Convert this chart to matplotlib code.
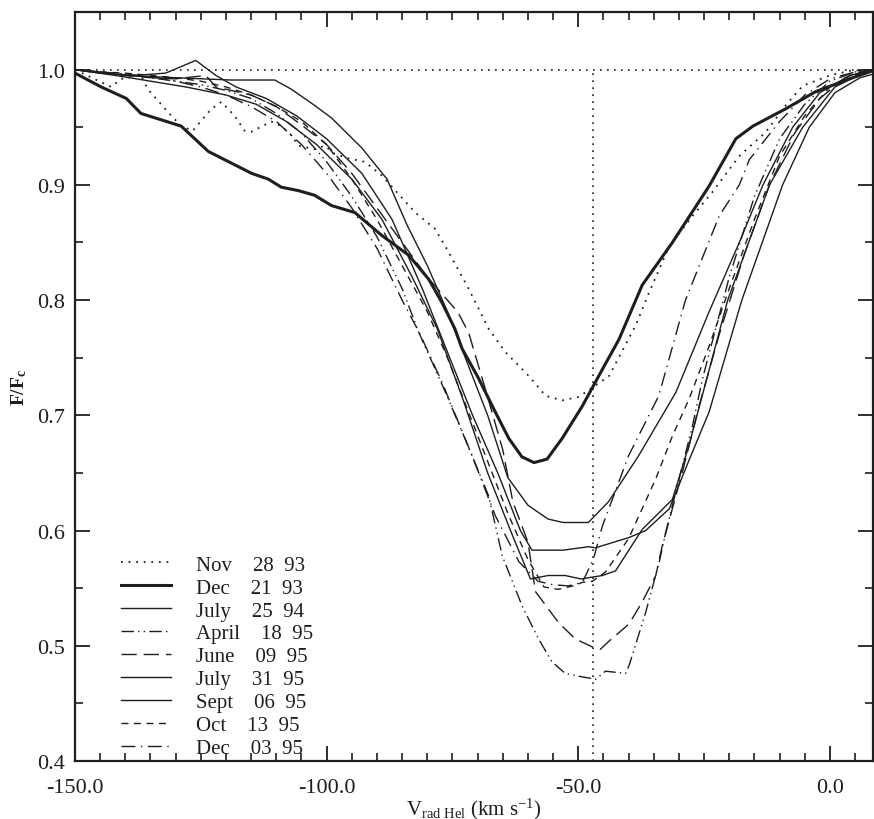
import matplotlib
matplotlib.use("Agg")
import matplotlib.pyplot as plt
from matplotlib.ticker import MultipleLocator, FormatStrFormatter

# ---------------------------------------------------------------------------
# data (velocity in km/s, normalised flux)
# ---------------------------------------------------------------------------
nov93_v = [-150, -144.8, -142.8, -140.8, -136.9, -135.5, -131.5, -128.9, -126.6, -122.9,
           -120.9, -118.3, -116.3, -115.0, -111.0, -109.0, -107.0, -105.6, -102.4, -100.4,
           -98.4, -95.7, -92.4, -89.0, -82.4, -78.5, -75.8, -71.8, -67.8, -64.5, -59.8,
           -56.5, -53.2, -49.9, -43.9, -38.6, -35.9, -31.9, -27.3, -23.3, -18.0, -12.7,
           -8.8, -5.4, 0.0, 4.0, 8.5]
nov93_f = [1.000, 0.989, 0.985, 0.992, 0.995, 0.983, 0.963, 0.951, 0.947, 0.966,
           0.972, 0.960, 0.947, 0.946, 0.955, 0.951, 0.943, 0.934, 0.931, 0.934,
           0.927, 0.923, 0.920, 0.908, 0.876, 0.862, 0.842, 0.810, 0.775, 0.755, 0.734,
           0.717, 0.713, 0.716, 0.734, 0.778, 0.807, 0.847, 0.873, 0.894, 0.925, 0.946,
           0.969, 0.986, 0.995, 0.999, 1.000]

dec93_v = [-150, -144.8, -139.8, -136.9, -128.9, -123.5, -114.9, -111.6, -109.0, -105.6,
           -102.4, -99.0, -94.4, -89.0, -83.7, -79.7, -77.1, -74.5, -73.1, -69.8, -66.5,
           -63.8, -61.2, -58.8, -56.2, -53.2, -49.2, -45.2, -41.9, -37.3, -31.3, -24.0,
           -18.7, -15.3, -8.8, -2.8, 3.9, 8.5]
dec93_f = [0.997, 0.985, 0.975, 0.962, 0.951, 0.929, 0.910, 0.905, 0.898, 0.895,
           0.891, 0.882, 0.876, 0.856, 0.839, 0.818, 0.798, 0.775, 0.758, 0.732, 0.703,
           0.680, 0.664, 0.659, 0.662, 0.680, 0.708, 0.740, 0.766, 0.813, 0.850, 0.899,
           0.940, 0.951, 0.966, 0.981, 0.992, 0.999]

jul94_v = [-150, -145, -140, -130, -119, -113.6, -110.3, -107, -102.4, -99, -93, -88,
           -84, -80, -76, -72, -68, -64, -60, -56, -53, -48, -44, -38, -30.6, -24, -18,
           -13.3, -7.4, -2, 4, 8.5]
jul94_f = [1.000, 0.998, 0.995, 0.993, 0.991, 0.991, 0.991, 0.983, 0.969, 0.958, 0.932,
           0.905, 0.865, 0.830, 0.790, 0.745, 0.700, 0.646, 0.622, 0.610, 0.607, 0.607,
           0.625, 0.665, 0.720, 0.790, 0.850, 0.900, 0.950, 0.980, 0.995, 1.000]

apr95_v = [-150, -145, -140, -135, -130, -125, -120, -115, -110, -105, -100, -95, -90,
           -85, -81.7, -78.4, -75.8, -71.1, -67.8, -65.1, -61.2, -57.9, -55.2, -52.6,
           -49.2, -46.5, -44.6, -40.6, -39.9, -36.6, -33.9, -32.6, -27.3, -25.3, -20,
           -15, -10, -5, 0, 5, 8.5]
apr95_f = [1.000, 0.998, 0.996, 0.993, 0.990, 0.987, 0.982, 0.975, 0.962, 0.945, 0.920,
           0.890, 0.855, 0.810, 0.772, 0.740, 0.714, 0.665, 0.630, 0.578, 0.535, 0.506,
           0.486, 0.476, 0.473, 0.471, 0.478, 0.476, 0.483, 0.529, 0.573, 0.599, 0.691,
           0.732, 0.820, 0.890, 0.940, 0.970, 0.990, 0.998, 1.000]

jun95_v = [-150, -145, -140, -135, -130, -124, -122, -115, -110, -105, -100, -95, -90,
           -85, -80, -74, -71.8, -68, -65, -63, -60, -58.5, -53.9, -50.6, -47.2, -45.6,
           -43.9, -39.9, -37.3, -34.6, -33.3, -29.3, -26, -22, -17, -12, -7, -2, 3, 8.5]
jun95_f = [1.000, 0.997, 0.995, 0.993, 0.992, 0.995, 0.985, 0.978, 0.968, 0.952, 0.935,
           0.910, 0.880, 0.850, 0.820, 0.790, 0.772, 0.716, 0.670, 0.625, 0.590, 0.547,
           0.520, 0.506, 0.499, 0.497, 0.504, 0.519, 0.538, 0.561, 0.587, 0.651, 0.708,
           0.770, 0.840, 0.900, 0.945, 0.975, 0.993, 1.000]

jul95_v = [-150, -145, -138, -132, -126, -122, -118, -112, -106, -100, -93, -87, -81,
           -76, -71, -66, -61.5, -59.2, -53, -47.9, -46.6, -39.9, -36.6, -31.9, -27.9,
           -24, -17.5, -9.4, -4.1, 1, 6, 8.5]
jul95_f = [1.000, 0.997, 0.995, 0.997, 1.008, 0.995, 0.985, 0.975, 0.960, 0.940, 0.910,
           0.870, 0.810, 0.755, 0.700, 0.650, 0.600, 0.583, 0.583, 0.586, 0.585, 0.594,
           0.600, 0.619, 0.662, 0.703, 0.800, 0.900, 0.950, 0.980, 0.993, 0.996]

sep95_v = [-150, -142, -135, -128, -120, -114, -108, -102, -95, -89, -83, -78, -73, -68,
           -63, -59.5, -56, -52.6, -49.5, -45.2, -42.6, -37.3, -31.3, -28, -20.3, -12,
           -5.4, 1, 7, 8.5]
sep95_f = [1.000, 0.995, 0.990, 0.985, 0.978, 0.970, 0.955, 0.935, 0.905, 0.870, 0.820,
           0.775, 0.715, 0.650, 0.595, 0.558, 0.561, 0.561, 0.558, 0.561, 0.565, 0.601,
           0.627, 0.674, 0.800, 0.900, 0.950, 0.985, 0.998, 1.000]

oct95_v = [-150, -145, -140, -135, -130, -125, -120, -115, -110, -105, -100, -95, -90,
           -85, -80, -76, -72, -68, -64, -60, -56.8, -54, -51, -49.2, -47.2, -44.6, -40,
           -34.6, -31.3, -28, -24, -20, -15, -10, -5, 0, 5, 8.5]
oct95_f = [1.000, 0.998, 0.997, 0.995, 0.993, 0.990, 0.985, 0.978, 0.968, 0.955, 0.935,
           0.905, 0.870, 0.830, 0.790, 0.750, 0.705, 0.660, 0.615, 0.575, 0.551, 0.549,
           0.552, 0.555, 0.556, 0.564, 0.593, 0.645, 0.682, 0.714, 0.760, 0.810, 0.870,
           0.925, 0.960, 0.985, 0.997, 1.000]

dec95_v = [-150, -145, -140, -135, -130, -125, -120, -115, -110, -105, -100, -95, -90,
           -85, -81.5, -77.1, -71.1, -66.5, -61.8, -58, -55, -52, -49.2, -47, -45.2, -40,
           -34, -28.7, -22, -18, -16, -10, -5, 0, 5, 8.5]
dec95_f = [1.000, 0.998, 0.996, 0.994, 0.990, 0.985, 0.978, 0.968, 0.955, 0.935, 0.910,
           0.880, 0.845, 0.800, 0.771, 0.729, 0.665, 0.613, 0.573, 0.556, 0.553, 0.552,
           0.555, 0.575, 0.604, 0.665, 0.717, 0.800, 0.873, 0.900, 0.922, 0.955, 0.978,
           0.992, 0.998, 1.000]

labels = ['Nov    28  93', 'Dec    21  93', 'July    25  94', 'April    18  95',
          'June    09  95', 'July    31  95', 'Sept    06  95', 'Oct    13  95',
          'Dec    03  95']

CONTINUUM = 1.0
V_REST = -47.0

# ---------------------------------------------------------------------------
# styles
# ---------------------------------------------------------------------------
INK = '#1e1e1e'
FONT = 'Liberation Serif'
plt.rcParams['font.family'] = [FONT, 'DejaVu Serif']
plt.rcParams['mathtext.fontset'] = 'custom'
plt.rcParams['mathtext.rm'] = FONT
plt.rcParams['mathtext.it'] = FONT
plt.rcParams['mathtext.bf'] = FONT + ':bold'

series = [
    (nov93_v, nov93_f, dict(lw=1.3, ls=(0, (1, 3.2)))),
    (dec93_v, dec93_f, dict(lw=2.2, ls='-')),
    (jul94_v, jul94_f, dict(lw=1.0, ls='-')),
    (apr95_v, apr95_f, dict(lw=1.0, ls=(0, (9, 3, 1, 3, 1, 3)))),
    (jun95_v, jun95_f, dict(lw=1.0, ls=(0, (11, 5)))),
    (jul95_v, jul95_f, dict(lw=1.0, ls='-')),
    (sep95_v, sep95_f, dict(lw=1.0, ls='-')),
    (oct95_v, oct95_f, dict(lw=1.0, ls=(0, (5, 4)))),
    (dec95_v, dec95_f, dict(lw=1.0, ls=(0, (10, 4, 1, 4)))),
]

fig, ax = plt.subplots(figsize=(8.74, 8.2), dpi=100)
fig.subplots_adjust(left=0.0858, right=0.9985, bottom=0.0707, top=0.9841)

# reference lines
ax.axhline(CONTINUUM, color=INK, lw=1.2, ls=(0, (1, 3.2)), zorder=1)
ax.plot([V_REST, V_REST], [0.4, CONTINUUM], color=INK, lw=1.2, ls=(0, (1, 3.2)), zorder=1)

for (v, f, st), lab in zip(series, labels):
    ax.plot(v, f, color=INK, label=lab, zorder=2, **st)

ax.set_xlim(-150, 8.5)
ax.set_ylim(0.4, 1.05)

ax.xaxis.set_major_locator(MultipleLocator(50))
ax.xaxis.set_minor_locator(MultipleLocator(5))
ax.yaxis.set_major_locator(MultipleLocator(0.1))
ax.yaxis.set_minor_locator(MultipleLocator(0.05))
ax.xaxis.set_major_formatter(FormatStrFormatter('%.1f'))
ax.yaxis.set_major_formatter(FormatStrFormatter('%.1f'))

ax.tick_params(which='both', direction='in', top=True, right=True, colors=INK)
ax.tick_params(which='major', length=11, width=1.3, labelsize=16)
ax.tick_params(which='minor', length=6, width=1.2)
ax.tick_params(axis='x', which='major', pad=12)
ax.tick_params(axis='y', which='major', pad=7)
for sp in ax.spines.values():
    sp.set_linewidth(1.6)
    sp.set_color(INK)

ax.set_xlabel(r'V$_{\rm rad\ Hel}$ (km s$^{-1}$)', fontsize=15, color=INK, labelpad=-1)
ax.set_ylabel(r'$\mathbf{F/F_c}$', fontsize=14, color=INK, labelpad=6)

leg = ax.legend(loc='lower left', bbox_to_anchor=(0.058, 0.004), frameon=False,
                fontsize=15, handlelength=2.4, handletextpad=1.2, labelspacing=0.16,
                borderpad=0, borderaxespad=0)
for t in leg.get_texts():
    t.set_color(INK)

fig.savefig('out.png', dpi=100, facecolor='white')
